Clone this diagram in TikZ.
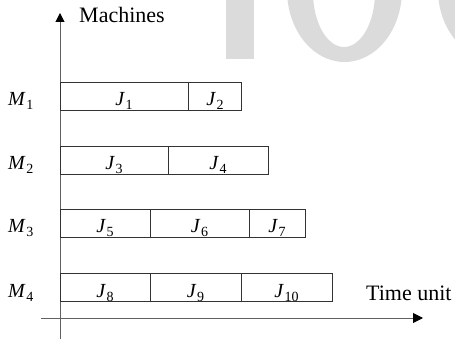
\documentclass[tikz,border=0pt]{standalone}
\usepackage{fontspec}
\setmainfont{Liberation Serif}
\usetikzlibrary{arrows.meta}
\newcommand\msub[2]{\textit{#1}\kern0.5pt\raisebox{-4pt}{\fontsize{14}{14}\selectfont #2}}
\tikzset{
  wm/.style={fill=black!14},
  axis/.style={draw=black!62, line width=1pt},
  jobbox/.style={draw=black!80, line width=0.8pt, inner sep=0pt, minimum height=28pt, anchor=north west},
  joblab/.style={anchor=base, inner sep=0pt, font=\fontsize{20}{20}\selectfont},
  mlab/.style={anchor=base west, inner sep=0pt, font=\fontsize{20}{20}\selectfont},
  txt/.style={anchor=base west, inner sep=0pt, font=\fontsize{22}{22}\selectfont},
}
\begin{document}
\begin{tikzpicture}[x=1pt,y=-1pt]
\useasboundingbox (0,0) rectangle (455,339);
% watermark fragments
\begin{scope}
\clip (0,0) rectangle (455,339);
\fill[wm] (226,-1) rectangle (254,59);
\fill[wm, even odd rule] (344.5,-10) ellipse [x radius=57.5pt, y radius=72pt]
  (344,-8) ellipse [x radius=31pt, y radius=55pt];
\fill[wm] (500,-10) ellipse [x radius=62pt, y radius=72pt];
\end{scope}
% axes
\coordinate (ybot) at (60,339);
\coordinate (ytop) at (60,13);
\coordinate (xl) at (41,318);
\coordinate (xr) at (423,318);
\draw[axis, -{Triangle[length=9pt,width=9pt,color=black]}] (ybot) -- (ytop);
\draw[axis, -{Triangle[length=10pt,width=10pt,color=black]}] (xl) -- (xr);
\node[txt] (machines) at (79,23) {Machines};
\node[txt] (timeunit) at (366,300) {Time unit};
% M1
\node[jobbox, minimum width=128pt] (b1) at (60,82) {};
\node[jobbox, minimum width=53pt] (b2) at (188,82) {};
% M2
\node[jobbox, minimum width=108pt] (b3) at (60,146) {};
\node[jobbox, minimum width=100pt] (b4) at (168,146) {};
% M3
\node[jobbox, minimum width=90pt] (b5) at (60,209) {};
\node[jobbox, minimum width=99pt] (b6) at (150,209) {};
\node[jobbox, minimum width=56pt] (b7) at (249,209) {};
% M4
\node[jobbox, minimum width=90pt] (b8) at (60,273) {};
\node[jobbox, minimum width=91pt] (b9) at (150,273) {};
\node[jobbox, minimum width=91pt] (b10) at (241,273) {};
% job labels
\node[joblab] (l1) at (124,106) {\msub{J}{1}};
\node[joblab] (l2) at (215,106) {\msub{J}{2}};
\node[joblab] (l3) at (114,170) {\msub{J}{3}};
\node[joblab] (l4) at (218,170) {\msub{J}{4}};
\node[joblab] (l5) at (105,233) {\msub{J}{5}};
\node[joblab] (l6) at (199.5,233) {\msub{J}{6}};
\node[joblab] (l7) at (277,233) {\msub{J}{7}};
\node[joblab] (l8) at (105,297) {\msub{J}{8}};
\node[joblab] (l9) at (195.5,297) {\msub{J}{9}};
\node[joblab] (l10) at (286.5,297) {\msub{J}{10}};
% machine labels
\node[mlab] (m1) at (8,106) {\msub{M}{1}};
\node[mlab] (m2) at (8,170) {\msub{M}{2}};
\node[mlab] (m3) at (8,233) {\msub{M}{3}};
\node[mlab] (m4) at (8,297) {\msub{M}{4}};
\end{tikzpicture}
\end{document}
